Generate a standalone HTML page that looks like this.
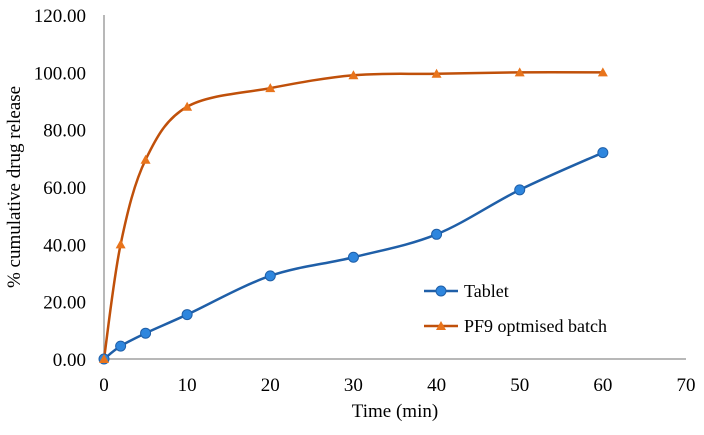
<!DOCTYPE html>
<html><head><meta charset="utf-8"><style>
body{margin:0;background:#fff;}
svg text{font-family:"Liberation Serif",serif;fill:#000;}
</style></head><body>
<svg id="chart" width="704" height="430" viewBox="0 0 704 430">
<g id="axes"></g><g id="series"></g>
<text x="0" y="0" transform="translate(20,187) rotate(-90)" text-anchor="middle" font-size="19">% cumulative drug release</text>
<text x="395" y="417" text-anchor="middle" font-size="19">Time (min)</text>
<g>
<g><line x1="424" y1="291" x2="458" y2="291" stroke="#1f5fa8" stroke-width="2.5"/><circle cx="441" cy="291" r="5" fill="#2e86de" stroke="#1f5fa8"/><text x="464" y="297" font-size="18">Tablet</text></g>
<g><line x1="424" y1="326" x2="458" y2="326" stroke="#c0500a" stroke-width="2.5"/><polygon points="441,321 446,330 436,330" fill="#e8741c"/><text x="464" y="332" font-size="18">PF9 optmised batch</text></g>
</g>
</svg>
<script>
const times=[0,2,5,10,20,30,40,50,60];
const tablet=[0,4.5,9,15.5,29,35.5,43.5,59,72];
const pf9=[0,40,69.5,88,94.5,99,99.5,100,100];
const xTicks=[0,10,20,30,40,50,60,70];
const yTicks=[0,20,40,60,80,100,120];
const X=v=>104+v*(686-104)/70, Y=v=>359-v*(359-15)/120;
const ns="http://www.w3.org/2000/svg";
const ax=document.getElementById('axes'), se=document.getElementById('series');
function mk(tag,attrs,parent){const e=document.createElementNS(ns,tag);for(const k in attrs)e.setAttribute(k,attrs[k]);parent.appendChild(e);return e;}
const ya=mk('line',{x1:X(0),y1:Y(120),x2:X(0),y2:Y(0),stroke:'#a0a0a0','stroke-width':1.5},ax);


const xa=mk('line',{x1:X(0),y1:Y(0),x2:X(70),y2:Y(0),stroke:'#a0a0a0','stroke-width':1.5},ax);


yTicks.forEach(v=>{const t=mk('text',{x:86,y:Y(v)+7,'text-anchor':'end','font-size':19},ax);t.textContent=v.toFixed(2);

});
xTicks.forEach(v=>{const t=mk('text',{x:X(v),y:391,'text-anchor':'middle','font-size':19},ax);t.textContent=v;

});
function path(vals){const p=times.map((t,i)=>[X(t),Y(vals[i])]);let d=`M${p[0][0]},${p[0][1]}`;
for(let i=0;i<p.length-1;i++){const p0=p[i-1]||p[i],p1=p[i],p2=p[i+1],p3=p[i+2]||p[i+1];const k=1/6;
d+=` C${p1[0]+(p2[0]-p0[0])*k},${p1[1]+(p2[1]-p0[1])*k} ${p2[0]-(p3[0]-p1[0])*k},${p2[1]-(p3[1]-p1[1])*k} ${p2[0]},${p2[1]}`;}return d;}
const l1=mk('path',{d:path(tablet),fill:'none',stroke:'#1f5fa8','stroke-width':2.5},se);


const l2=mk('path',{d:path(pf9),fill:'none',stroke:'#c0500a','stroke-width':2.5},se);


times.forEach((t,i)=>{const c=mk('circle',{cx:X(t),cy:Y(tablet[i]),r:5,fill:'#2e86de',stroke:'#1f5fa8'},se);

});
times.forEach((t,i)=>{const x=X(t),y=Y(pf9[i]);const tr=mk('polygon',{points:`${x},${y-5} ${x+5},${y+4} ${x-5},${y+4}`,fill:'#e8741c'},se);

});
</script>
</body></html>
